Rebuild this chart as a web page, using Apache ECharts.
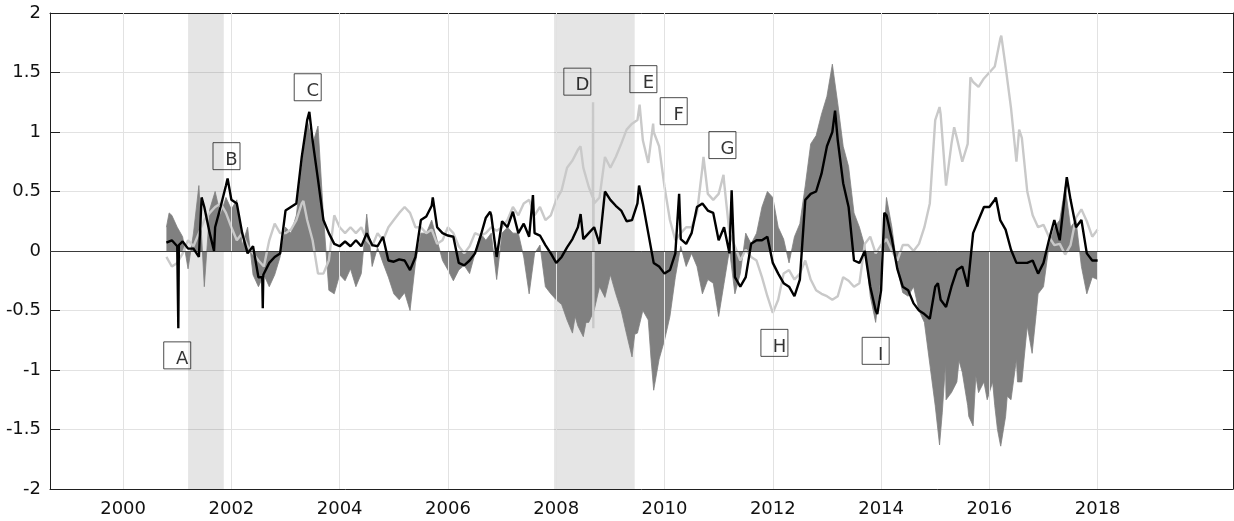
<!DOCTYPE html>
<html>
<head>
<meta charset="utf-8">
<script src="https://cdn.jsdelivr.net/npm/echarts@6/dist/echarts.min.js"></script>
<style>html,body{margin:0;padding:0;background:#fff}#chart{width:1234px;height:521px}</style>
</head>
<body>
<div id="chart"></div>
<script>
// ---------- data ----------
const startYear = 2000.8;   // first sample, then one sample every 0.1 year up to 2018.0
const stepYear = 0.1;

const blackValues = [
  0.07, 0.09,
  0.04, 0.08, 0.02, 0.02, -0.05, 0.37, 0.15, 0.2, 0.37, 0.55,
  0.43, 0.4, 0.15, -0.02, 0.04, -0.22, -0.19, -0.1, -0.05, -0.02,
  0.34, 0.37, 0.4, 0.79, 1.1, 0.93, 0.6, 0.26, 0.15, 0.06,
  0.04, 0.08, 0.04, 0.09, 0.04, 0.15, 0.05, 0.04, 0.12, -0.08,
  -0.09, -0.07, -0.08, -0.16, -0.05, 0.26, 0.29, 0.38, 0.2, 0.15,
  0.13, 0.12, -0.1, -0.12, -0.08, -0.02, 0.12, 0.28, 0.3, -0.05,
  0.25, 0.2, 0.33, 0.15, 0.23, 0.12, 0.15, 0.13, 0.05, -0.02,
  -0.1, -0.05, 0.03, 0.1, 0.2, 0.1, 0.15, 0.2, 0.06, 0.5,
  0.43, 0.38, 0.34, 0.25, 0.26, 0.4, 0.4, 0.15, -0.1, -0.13,
  -0.19, -0.16, -0.02, 0.1, 0.06, 0.15, 0.37, 0.4, 0.34, 0.32,
  0.09, 0.2, -0.02, -0.22, -0.3, -0.22, 0.06, 0.09, 0.09, 0.12,
  -0.1, -0.19, -0.27, -0.3, -0.38, -0.24, 0.43, 0.48, 0.5, 0.65,
  0.88, 1.0, 0.93, 0.57, 0.37, -0.08, -0.1, 0.0, -0.3, -0.5,
  -0.33, 0.3, 0.1, -0.15, -0.3, -0.33, -0.44, -0.5, -0.53, -0.57,
  -0.3, -0.41, -0.47, -0.3, -0.16, -0.13, -0.3, 0.15, 0.26, 0.37,
  0.37, 0.43, 0.26, 0.18, 0.01, -0.1, -0.1, -0.1, -0.08, -0.19,
  -0.1, 0.09, 0.26, 0.09, 0.5, 0.43, 0.2, 0.26, -0.02, -0.08,
  -0.08
];
const blackExtraYears  = [2001.01, 2001.02, 2001.03, 2001.45, 2001.68, 2001.93, 2002.57, 2002.58, 2002.59, 2003.44, 2005.72, 2006.78, 2007.57, 2008.45, 2009.53, 2010.27, 2011.24, 2013.15, 2013.93, 2014.06, 2014.93, 2015.05, 2016.12, 2017.43];
const blackExtraValues = [0.05, -0.65, 0.05, 0.45, 0.0, 0.61, -0.22, -0.48, -0.2, 1.17, 0.45, 0.33, 0.47, 0.31, 0.55, 0.48, 0.51, 1.18, -0.53, 0.32, -0.58, -0.27, 0.45, 0.62];

const lightValues = [
  -0.05, -0.13,
  -0.1, -0.02, 0.09, 0.04, 0.15, 0.26, 0.32, 0.37, 0.4, 0.32,
  0.2, 0.09, 0.15, 0.04, -0.02, -0.08, -0.13, 0.09, 0.23, 0.15,
  0.15, 0.18, 0.26, 0.4, 0.26, 0.09, -0.19, -0.19, -0.08, 0.3,
  0.2, 0.15, 0.2, 0.15, 0.2, 0.09, 0.04, 0.15, 0.09, 0.2,
  0.26, 0.32, 0.37, 0.32, 0.2, 0.2, 0.15, 0.18, 0.06, 0.09,
  0.2, 0.15, 0.04, -0.02, 0.04, 0.15, 0.13, 0.15, 0.2, 0.17,
  0.2, 0.26, 0.37, 0.3, 0.4, 0.43, 0.3, 0.37, 0.26, 0.3,
  0.43, 0.51, 0.7, 0.76, 0.85, 0.7, 0.54, 0.4, 0.45, 0.79,
  0.7, 0.79, 0.9, 1.02, 1.07, 1.1, 0.93, 0.74, 1.0, 0.88,
  0.54, 0.26, 0.09, 0.15, 0.2, 0.2, 0.32, 0.7, 0.48, 0.43,
  0.48, 0.58, 0.15, 0.04, -0.08, 0.01, -0.05, -0.08, -0.22, -0.38,
  -0.52, -0.41, -0.19, -0.16, -0.24, -0.19, -0.08, -0.24, -0.33, -0.36,
  -0.38, -0.41, -0.38, -0.22, -0.25, -0.3, -0.27, 0.06, 0.12, -0.02,
  0.05, 0.1, 0.0, -0.08, 0.05, 0.05, 0.0, 0.06, 0.2, 0.4,
  1.1, 1.15, 0.55, 0.9, 0.95, 0.75, 0.9, 1.42, 1.38, 1.45,
  1.5, 1.55, 1.78, 1.55, 1.2, 0.75, 0.95, 0.5, 0.3, 0.2,
  0.22, 0.12, 0.05, 0.06, -0.03, 0.05, 0.28, 0.35, 0.25, 0.12,
  0.18
];
const lightExtraYears  = [2003.33, 2008.45, 2008.675, 2008.68, 2008.685, 2008.69, 2009.54, 2009.79, 2010.72, 2011.09, 2015.08, 2015.35, 2015.65, 2016.22, 2016.55];
const lightExtraValues = [0.42, 0.88, 0.45, 1.25, -0.65, 0.45, 1.23, 1.07, 0.79, 0.64, 1.21, 1.04, 1.46, 1.81, 1.02];

const areaValues = [
  0.2, 0.3,
  0.2, 0.12, -0.15, 0.15, 0.55, -0.3, 0.35, 0.5, 0.3, 0.45,
  0.35, 0.43, 0.05, 0.2, -0.2, -0.3, -0.2, -0.3, -0.2, -0.05,
  0.2, 0.15, 0.3, 0.7, 1.1, 0.9, 1.05, 0.3, -0.33, -0.36,
  -0.2, -0.25, -0.15, -0.3, -0.19, 0.31, -0.13, 0.03, -0.1, -0.22,
  -0.36, -0.41, -0.35, -0.5, -0.1, 0.15, 0.15, 0.26, 0.09, -0.08,
  -0.16, -0.25, -0.16, -0.12, -0.19, -0.02, 0.15, 0.09, 0.15, -0.24,
  0.15, 0.2, 0.15, 0.15, -0.05, -0.36, -0.02, 0.05, -0.3, -0.36,
  -0.41, -0.45, -0.58, -0.69, -0.63, -0.72, -0.6, -0.5, -0.3, -0.39,
  -0.2, -0.36, -0.5, -0.7, -0.89, -0.69, -0.5, -0.58, -1.17, -0.91,
  -0.75, -0.55, -0.22, 0.04, -0.13, -0.02, -0.13, -0.36, -0.24, -0.27,
  -0.55, -0.27, 0.01, -0.36, -0.19, 0.15, 0.06, 0.15, 0.37, 0.5,
  0.45, 0.2, 0.1, -0.1, 0.12, 0.23, 0.55, 0.9, 0.97, 1.15,
  1.3, 1.57, 1.24, 0.88, 0.71, 0.32, 0.2, 0.04, -0.38, -0.6,
  -0.2, 0.45, 0.2, -0.15, -0.35, -0.38, -0.3, -0.5, -0.6, -0.95,
  -1.3, -1.62, -1.25, -1.19, -1.1, -1.02, -1.3, -1.47, -1.19, -1.1,
  -1.19, -1.3, -1.62, -1.39, -1.25, -0.91, -1.1, -0.63, -0.86, -0.36,
  -0.3, 0.04, 0.2, 0.26, 0.54, 0.2, 0.26, -0.13, -0.36, -0.22,
  -0.24
];
const areaExtraYears  = [2000.85, 2003.63, 2008.35, 2008.55, 2009.45, 2009.75, 2015.08, 2015.13, 2015.19, 2015.32, 2015.44, 2015.62, 2015.75, 2015.96, 2016.06, 2016.15, 2016.21, 2016.33, 2016.52, 2016.79, 2016.86];
const areaExtraValues = [0.32, 1.06, -0.55, -0.6, -0.7, -0.9, -1.63, -1.36, -0.95, -1.2, -0.92, -1.39, -1.05, -1.25, -1.1, -1.5, -1.64, -1.22, -1.1, -0.86, -0.55];

const recessions = [[2001.2, 2001.86], [2007.96, 2009.45]];

const boxLabels = ['A', 'B', 'C', 'D', 'E', 'F', 'G', 'H', 'I'];
const boxYears  = [2001.0, 2001.91, 2003.41, 2008.39, 2009.61, 2010.17, 2011.07, 2012.03, 2013.90];
const boxValues = [-0.877, 0.797, 1.376, 1.423, 1.444, 1.175, 0.89, -0.772, -0.839];

const xTickYears = [2000, 2002, 2004, 2006, 2008, 2010, 2012, 2014, 2016, 2018];

// ---------- build ----------
const gridYears = blackValues.map((_, i) => +(startYear + i * stepYear).toFixed(2));
function buildSeries(vals, exYears, exVals) {
  const pts = gridYears.map((y, i) => [y, vals[i]]);
  exYears.forEach((y, i) => pts.push([y, exVals[i]]));
  pts.sort((a, b) => a[0] - b[0]);
  return pts;
}

const FONT = 'DejaVu Sans';
const AXIS_COLOR = '#1f1f1f';
const X_MIN = 1998.65, X_MAX = 2020.5;

const chart = echarts.init(document.getElementById('chart'), null, {renderer: 'canvas'});
chart.setOption({
  animation: false,
  backgroundColor: '#ffffff',
  grid: {left: 50, right: 1, top: 13, bottom: 32, containLabel: false},
  xAxis: [
    {
      type: 'value', position: 'bottom', min: X_MIN, max: X_MAX,
      axisLine: {show: true, onZero: false, lineStyle: {color: AXIS_COLOR, width: 1}},
      axisTick: {show: true, inside: true, length: 10, customValues: xTickYears, lineStyle: {color: AXIS_COLOR}},
      axisLabel: {show: true, customValues: xTickYears, margin: 11, fontSize: 18, fontFamily: FONT, color: '#111111',
                  formatter: v => String(Math.round(v))},
      splitLine: {show: false}
    },
    {
      type: 'value', position: 'top', min: X_MIN, max: X_MAX,
      axisLine: {show: true, onZero: false, lineStyle: {color: AXIS_COLOR, width: 1}},
      axisTick: {show: true, inside: true, length: 10, customValues: xTickYears, lineStyle: {color: AXIS_COLOR}},
      axisLabel: {show: false},
      splitLine: {show: false}
    }
  ],
  yAxis: [
    {
      type: 'value', position: 'left', min: -2, max: 2, interval: 0.5,
      axisLine: {show: true, onZero: false, lineStyle: {color: AXIS_COLOR, width: 1}},
      axisTick: {show: true, inside: true, length: 10, lineStyle: {color: AXIS_COLOR}},
      axisLabel: {show: true, margin: 9, fontSize: 18, fontFamily: FONT, color: '#111111'},
      splitLine: {show: true, lineStyle: {color: '#e2e2e2', width: 1}}
    },
    {
      type: 'value', position: 'right', min: -2, max: 2, interval: 0.5,
      axisLine: {show: true, onZero: false, lineStyle: {color: AXIS_COLOR, width: 1}},
      axisTick: {show: true, inside: true, length: 10, lineStyle: {color: AXIS_COLOR}},
      axisLabel: {show: false},
      splitLine: {show: false}
    }
  ],
  series: [
    { // vertical grid lines
      type: 'line', data: [], z: 1, silent: true,
      markLine: {
        silent: true, symbol: 'none', animation: false,
        label: {show: false},
        lineStyle: {color: '#e2e2e2', width: 1, type: 'solid'},
        emphasis: {disabled: true},
        data: xTickYears.map(y => ({xAxis: y}))
      }
    },
    { // filled component
      name: 'area', type: 'line', z: 2, silent: true,
      data: buildSeries(areaValues, areaExtraYears, areaExtraValues),
      showSymbol: false, symbol: 'none',
      lineStyle: {width: 0.8, color: '#808080'},
      areaStyle: {color: '#808080', opacity: 1, origin: 0},
      markLine: {
        silent: true, symbol: 'none', animation: false,
        label: {show: false},
        lineStyle: {color: '#3a3a3a', width: 1, type: 'solid'},
        data: [{yAxis: 0}]
      }
    },
    { // light grey line
      name: 'light', type: 'line', z: 3, silent: true,
      data: buildSeries(lightValues, lightExtraYears, lightExtraValues),
      showSymbol: false, symbol: 'none',
      lineStyle: {width: 2.4, color: '#c9c9c9'}
    },
    { // recession shading (translucent, on top)
      type: 'line', data: [], z: 4, silent: true,
      markArea: {
        silent: true,
        itemStyle: {color: 'rgba(0,0,0,0.1)'},
        data: recessions.map(r => [{xAxis: r[0]}, {xAxis: r[1]}])
      }
    },
    { // black line
      name: 'black', type: 'line', z: 5, silent: true,
      data: buildSeries(blackValues, blackExtraYears, blackExtraValues),
      showSymbol: false, symbol: 'none',
      lineStyle: {width: 2.4, color: '#000000'}
    },
    { // boxed letters
      type: 'scatter', z: 6, silent: true,
      data: boxLabels.map((n, i) => ({name: n, value: [boxYears[i], boxValues[i]]})),
      symbol: 'rect', symbolSize: 27,
      itemStyle: {color: 'rgba(255,255,255,0)', borderColor: AXIS_COLOR, borderWidth: 1},
      label: {show: true, position: 'inside', offset: [5, 4], formatter: p => p.name,
              fontSize: 18, fontFamily: FONT, color: '#000000'}
    }
  ]
});
</script>
</body>
</html>
